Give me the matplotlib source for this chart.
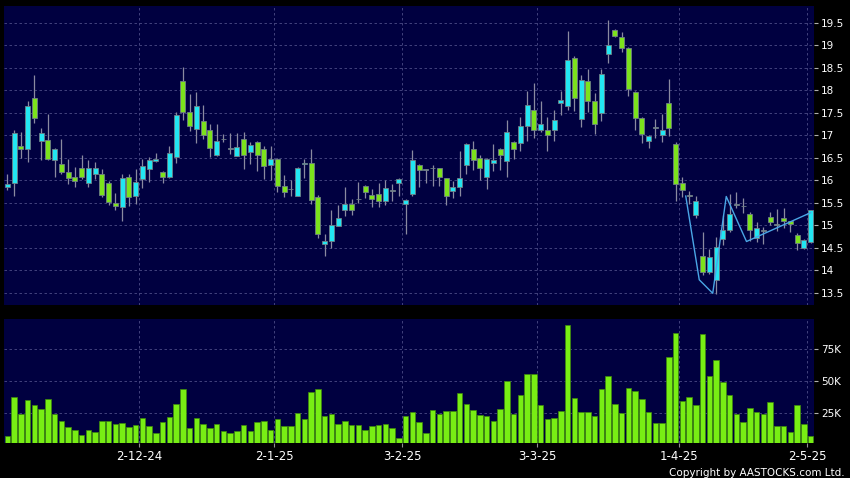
import numpy as np
import pandas as pd
import matplotlib
matplotlib.use('Agg')
import matplotlib.pyplot as plt
from matplotlib.ticker import MultipleLocator, FuncFormatter

# HK trading days, Nov 2024 - May 2025
holidays = ['2024-12-25', '2024-12-26', '2025-01-01', '2025-01-29', '2025-01-30',
            '2025-01-31', '2025-04-04', '2025-04-18', '2025-04-21', '2025-05-01']
days = pd.bdate_range('2024-11-04', '2025-05-02')
days = days[~days.isin(pd.to_datetime(holidays))]

opens = [15.85, 15.94, 16.77, 16.70, 17.83, 16.88, 16.90, 16.44, 16.37, 16.19,
         16.08, 16.27, 15.95, 16.14, 16.14, 15.94, 15.49, 15.40, 16.07, 15.64,
         16.02, 16.25, 16.43, 16.19, 16.07, 16.51, 18.20, 17.51, 17.14, 17.31,
         17.12, 16.57, 16.91, 16.70, 16.54, 16.91, 16.62, 16.84, 16.69, 16.35,
         16.48, 15.87, 15.80, 15.65, 16.36, 16.39, 15.63, 14.59, 14.66, 14.99,
         15.34, 15.48, 15.58, 15.88, 15.68, 15.70, 15.54, 15.77, 15.94, 15.48,
         15.70, 16.34, 16.23, 16.27, 16.27, 16.05, 15.77, 15.86, 16.33, 16.70,
         16.50, 16.07, 16.38, 16.70, 16.42, 16.85, 16.83, 17.20, 17.57, 17.12,
         17.12, 17.12, 17.72, 17.66, 18.71, 17.37, 18.20, 17.76, 17.50, 18.81,
         19.33, 19.18, 18.94, 17.96, 17.39, 16.87, 17.16, 17.01, 17.72, 16.81,
         15.94, 15.65, 15.23, 14.31, 13.97, 13.79, 14.70, 14.90, 15.46, 15.42,
         15.26, 14.72, 14.88, 15.18, 15.01, 15.17, 15.09, 14.79, 14.50, 14.63]
highs = [16.13, 17.12, 17.08, 17.77, 18.33, 17.17, 17.48, 16.71, 16.92, 16.48,
         16.29, 16.56, 16.46, 16.40, 16.24, 15.99, 15.71, 16.13, 16.14, 16.25,
         16.48, 16.51, 16.61, 16.20, 16.77, 17.51, 18.51, 17.92, 17.97, 17.68,
         17.25, 17.25, 17.02, 17.05, 17.05, 17.08, 16.86, 16.88, 16.75, 16.77,
         16.50, 16.12, 16.01, 16.30, 16.48, 16.70, 15.68, 14.80, 15.33, 15.45,
         15.85, 15.59, 15.97, 15.89, 15.81, 15.94, 16.00, 15.92, 16.06, 15.58,
         16.68, 16.36, 16.25, 16.34, 16.28, 16.06, 15.99, 16.64, 16.82, 16.88,
         16.57, 16.49, 16.80, 16.72, 17.33, 16.87, 17.40, 17.98, 18.16, 17.75,
         17.40, 17.57, 17.99, 19.31, 18.75, 18.34, 18.46, 17.94, 18.48, 19.57,
         19.37, 19.29, 18.95, 17.98, 17.40, 17.01, 17.35, 17.48, 18.25, 16.85,
         16.07, 15.77, 15.64, 14.86, 14.48, 14.74, 15.22, 15.70, 15.74, 15.61,
         15.30, 15.07, 14.96, 15.29, 15.37, 15.39, 15.10, 14.83, 14.70, 15.35]
lows = [15.79, 15.65, 16.49, 16.40, 17.27, 16.46, 16.44, 16.08, 16.13, 15.91,
        15.85, 16.02, 15.85, 16.02, 15.63, 15.46, 15.33, 15.09, 15.43, 15.48,
        15.83, 15.96, 16.40, 15.94, 16.05, 16.38, 17.34, 17.09, 16.82, 16.92,
        16.51, 16.53, 16.84, 16.59, 16.53, 16.25, 16.37, 16.20, 16.02, 16.00,
        15.74, 15.63, 15.64, 15.64, 16.05, 15.48, 14.72, 14.31, 14.50, 14.98,
        15.20, 15.22, 15.49, 15.61, 15.40, 15.40, 15.46, 15.55, 15.65, 14.80,
        15.66, 15.85, 15.94, 15.88, 15.88, 15.46, 15.61, 15.66, 16.14, 16.22,
        16.00, 15.81, 16.20, 16.22, 16.07, 16.48, 16.66, 16.87, 16.94, 17.07,
        16.65, 16.87, 17.45, 17.55, 17.53, 17.18, 17.51, 17.03, 17.31, 18.61,
        19.18, 18.85, 17.87, 17.11, 16.83, 16.72, 16.94, 16.85, 16.99, 15.55,
        15.62, 15.48, 15.17, 13.89, 13.92, 13.48, 14.57, 14.85, 15.39, 15.27,
        14.66, 14.63, 14.59, 15.00, 14.88, 14.94, 14.85, 14.45, 14.47, 14.60]
closes = [15.92, 17.05, 16.70, 17.65, 17.39, 17.05, 16.47, 16.69, 16.19, 16.05,
          15.99, 16.08, 16.27, 16.27, 15.68, 15.51, 15.42, 16.06, 15.63, 15.96,
          16.31, 16.45, 16.48, 16.07, 16.60, 17.46, 17.51, 17.20, 17.65, 17.01,
          16.72, 16.87, 16.91, 16.70, 16.74, 16.57, 16.79, 16.57, 16.31, 16.48,
          15.87, 15.74, 15.80, 16.28, 16.39, 15.57, 14.81, 14.66, 15.00, 15.17,
          15.48, 15.34, 15.58, 15.74, 15.59, 15.54, 15.83, 15.77, 16.03, 15.57,
          16.45, 16.22, 16.23, 16.27, 16.08, 15.66, 15.86, 16.05, 16.81, 16.44,
          16.28, 16.48, 16.44, 16.57, 17.08, 16.70, 17.20, 17.68, 17.11, 17.25,
          17.01, 17.34, 17.79, 18.68, 17.83, 18.23, 17.75, 17.25, 18.37, 19.01,
          19.20, 18.94, 18.03, 17.39, 17.03, 16.99, 17.16, 17.12, 17.17, 15.92,
          15.79, 15.65, 15.54, 13.97, 14.29, 14.51, 14.90, 15.26, 15.46, 15.42,
          14.90, 14.94, 14.88, 15.07, 15.01, 15.09, 15.02, 14.61, 14.68, 15.33]
volumes_k = [7.3, 37.5, 24.5, 35.2, 31.5, 28.6, 35.9, 24.7, 18.8, 14.6,
             11.7, 8.3, 11.7, 10.2, 19.0, 18.8, 16.7, 17.2, 14.1, 16.1,
             21.6, 14.8, 9.4, 18.2, 21.9, 32.3, 43.7, 13.5, 21.1, 16.7,
             13.8, 16.4, 10.9, 9.9, 11.5, 15.6, 11.5, 18.0, 19.0, 11.7,
             20.6, 14.8, 14.8, 25.3, 20.6, 41.9, 43.7, 22.9, 24.5, 16.7,
             18.8, 15.6, 16.1, 12.0, 14.8, 15.9, 16.7, 13.8, 6.0, 22.7,
             26.0, 18.2, 9.9, 27.3, 24.7, 26.8, 26.6, 41.1, 32.3, 27.6,
             23.7, 22.9, 18.8, 28.4, 50.0, 24.7, 39.1, 55.5, 56.0, 31.2,
             20.3, 21.6, 26.8, 94.0, 37.2, 26.3, 26.0, 22.9, 43.7, 54.2,
             32.0, 25.5, 44.8, 42.2, 35.9, 25.8, 17.7, 17.7, 69.0, 87.5,
             34.4, 37.5, 31.8, 87.0, 53.9, 66.4, 49.7, 39.3, 24.2, 18.0,
             29.4, 25.8, 24.7, 33.9, 15.4, 15.4, 10.4, 31.8, 16.4, 7.0]

# zigzag overlay (bar index, price)
zz_idx = [100.5, 102.5, 104.5, 106.5, 109.5, 119]
zz_val = [15.65, 13.79, 13.49, 15.64, 14.64, 15.28]

month_dates = ['2024-12-02', '2025-01-02', '2025-02-03', '2025-03-03', '2025-04-01', '2025-05-02']
month_labels = ['2-12-24', '2-1-25', '3-2-25', '3-3-25', '1-4-25', '2-5-25']

o = np.array(opens)
h = np.array(highs)
l = np.array(lows)
c = np.array(closes)
vol = np.array(volumes_k) * 1000
x = np.arange(len(days))
month_pos = days.get_indexer(pd.to_datetime(month_dates)) - 0.5

bg = '#000040'
grid_col = '#4c4c86'
up_col = '#22e6f2'
down_col = '#7ce21c'
flat_col = '#9a9aa8'

fig = plt.figure(figsize=(8.5, 4.78), dpi=100, facecolor='black')
ax1 = fig.add_axes([4 / 850, 1 - 305 / 478, 810 / 850, 299 / 478], facecolor=bg)
ax2 = fig.add_axes([4 / 850, 1 - 443.3 / 478, 810 / 850, 124.3 / 478], facecolor=bg)

# candles
ax1.vlines(x, l, h, color='#8a8aa0', lw=0.9, zorder=2)
colors = np.where(c > o, up_col, np.where(c < o, down_col, flat_col))
body_bottom = np.minimum(o, c)
body_height = np.maximum(np.abs(c - o), 0.012)
ax1.bar(x, body_height, bottom=body_bottom, width=0.72, color=colors,
        edgecolor='#6f7f86', linewidth=0.6, zorder=3)
ax1.plot(zz_idx, zz_val, color='#4aa6e6', lw=1.0, zorder=4)

ax1.set_ylim(13.23, 19.87)
ax1.yaxis.set_major_locator(MultipleLocator(0.5))
ax1.yaxis.set_major_formatter(FuncFormatter(lambda v, p: '%g' % v))

# volume
ax2.bar(x, vol, width=0.8, color='#78ee14', edgecolor='#3e8a0c', linewidth=0.5, zorder=3)
ax2.set_ylim(1500, 98700)
ax2.set_yticks([25000, 50000, 75000])
ax2.set_yticklabels(['25K', '50K', '75K'])

for ax in (ax1, ax2):
    ax.set_xlim(-0.5, len(days) - 0.5)
    for s in ax.spines.values():
        s.set_visible(False)
    ax.yaxis.tick_right()
    ax.tick_params(axis='y', colors='#b0b0b0', labelcolor='white', labelsize=7.5,
                   length=3, width=0.8, pad=2)
    ax.set_xticks(month_pos)
    ax.grid(True, color=grid_col, linestyle=(0, (3, 3)), lw=0.6, zorder=0)
    ax.set_axisbelow(True)

ax1.tick_params(axis='x', length=0, labelbottom=False)
ax2.set_xticklabels(month_labels)
ax2.tick_params(axis='x', colors='#909090', labelcolor='white', labelsize=8.5,
                length=3, width=0.8, pad=2)

fig.text(845 / 850, 0.5 / 478, 'Copyright by AASTOCKS.com Ltd.', ha='right',
         va='bottom', color='white', fontsize=7.5)

fig.savefig('out.png', dpi=100, facecolor='black')
